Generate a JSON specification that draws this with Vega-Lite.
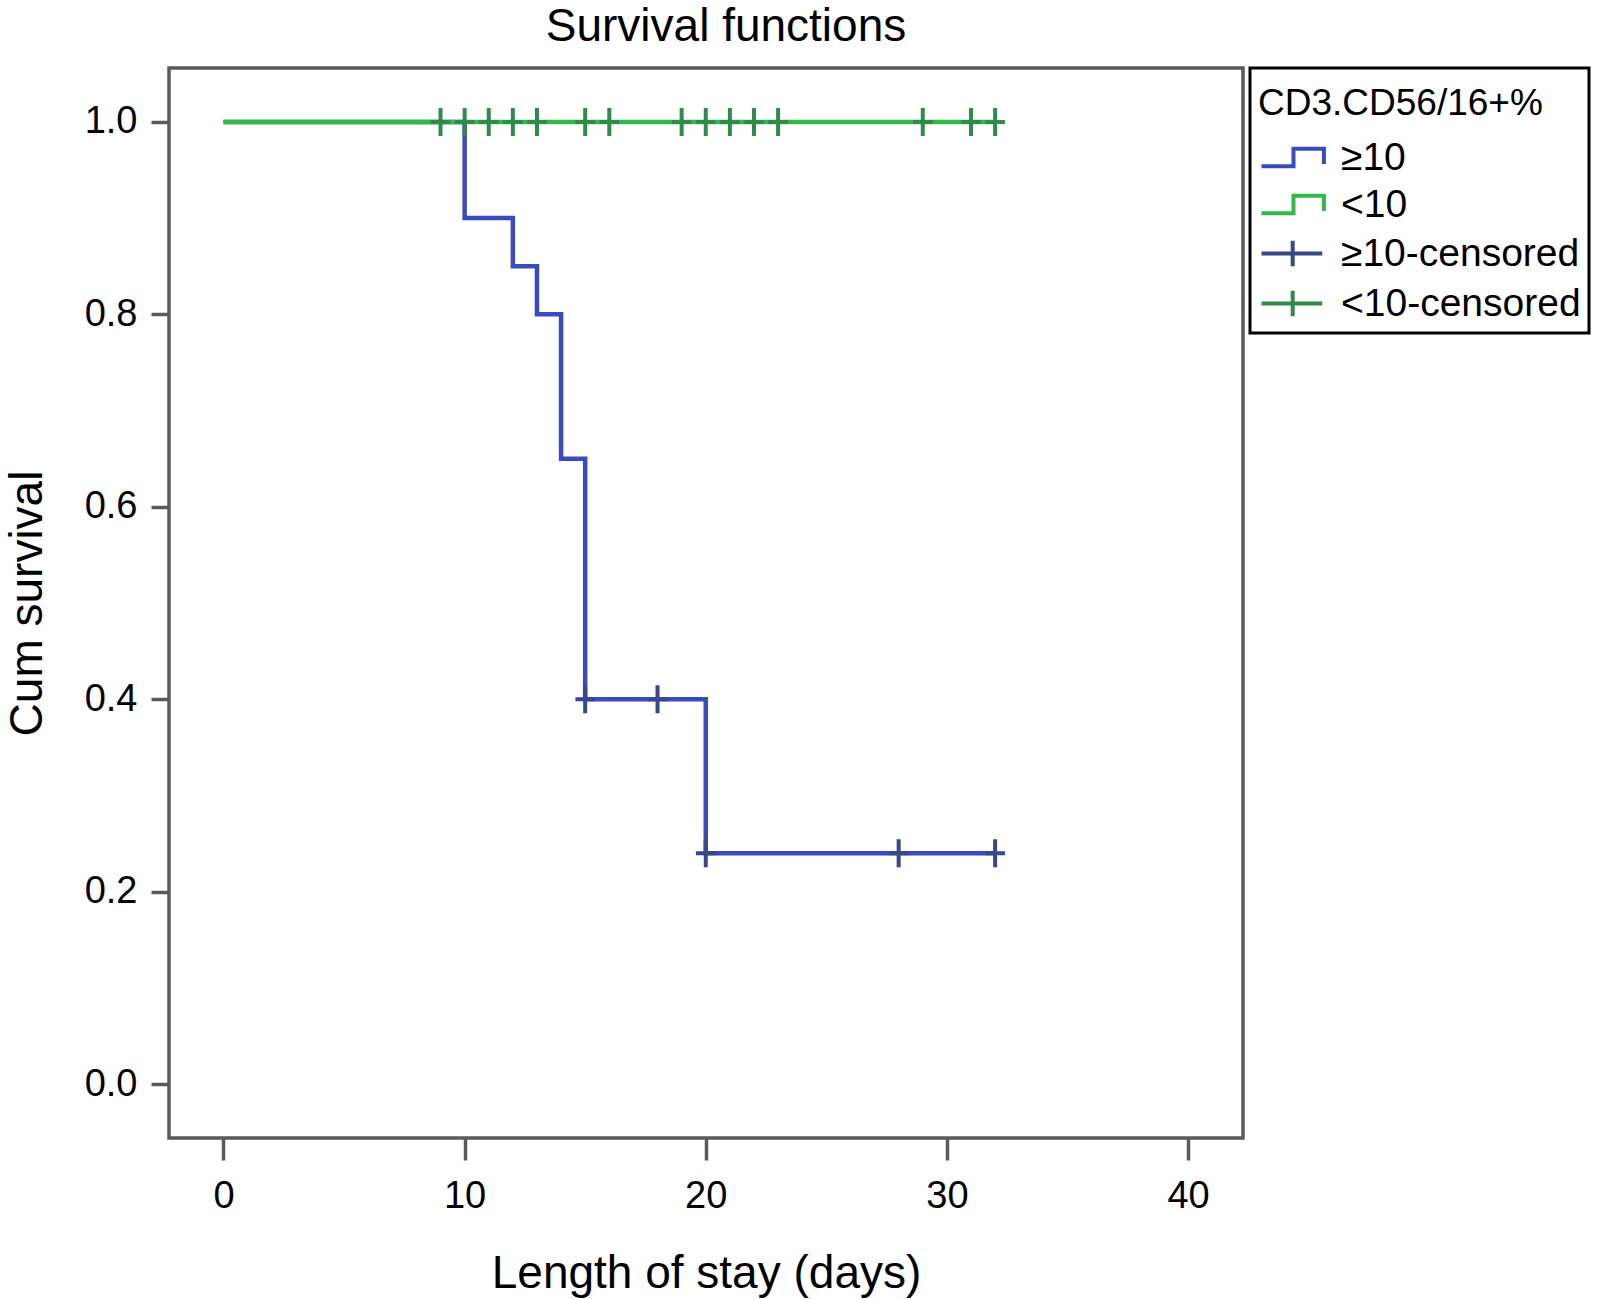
{
  "$schema": "https://vega.github.io/schema/vega-lite/v6.json",
  "width": 1074,
  "height": 1070,
  "autosize": {"type": "none"},
  "padding": {"left": 169, "top": 68, "right": 366, "bottom": 161},
  "background": "white",
  "title": {
    "text": "Survival functions",
    "font": "Liberation Sans",
    "fontSize": 46,
    "fontWeight": "normal",
    "color": "black",
    "anchor": "middle",
    "dx": 20,
    "offset": 16
  },
  "datasets": {
    "curves": [
      {"day": 0, "survival": 1.0, "group": "≥10"},
      {"day": 10, "survival": 0.9, "group": "≥10"},
      {"day": 12, "survival": 0.85, "group": "≥10"},
      {"day": 13, "survival": 0.8, "group": "≥10"},
      {"day": 14, "survival": 0.65, "group": "≥10"},
      {"day": 15, "survival": 0.4, "group": "≥10"},
      {"day": 20, "survival": 0.24, "group": "≥10"},
      {"day": 32, "survival": 0.24, "group": "≥10"},
      {"day": 0, "survival": 1.0, "group": "<10"},
      {"day": 32, "survival": 1.0, "group": "<10"}
    ],
    "censored": [
      {"day": 15, "survival": 0.4, "group": "≥10-censored"},
      {"day": 18, "survival": 0.4, "group": "≥10-censored"},
      {"day": 20, "survival": 0.24, "group": "≥10-censored"},
      {"day": 28, "survival": 0.24, "group": "≥10-censored"},
      {"day": 32, "survival": 0.24, "group": "≥10-censored"},
      {"day": 9, "survival": 1.0, "group": "<10-censored"},
      {"day": 10, "survival": 1.0, "group": "<10-censored"},
      {"day": 11, "survival": 1.0, "group": "<10-censored"},
      {"day": 12, "survival": 1.0, "group": "<10-censored"},
      {"day": 13, "survival": 1.0, "group": "<10-censored"},
      {"day": 15, "survival": 1.0, "group": "<10-censored"},
      {"day": 16, "survival": 1.0, "group": "<10-censored"},
      {"day": 19, "survival": 1.0, "group": "<10-censored"},
      {"day": 20, "survival": 1.0, "group": "<10-censored"},
      {"day": 21, "survival": 1.0, "group": "<10-censored"},
      {"day": 22, "survival": 1.0, "group": "<10-censored"},
      {"day": 23, "survival": 1.0, "group": "<10-censored"},
      {"day": 29, "survival": 1.0, "group": "<10-censored"},
      {"day": 31, "survival": 1.0, "group": "<10-censored"},
      {"day": 32, "survival": 1.0, "group": "<10-censored"}
    ]
  },
  "encoding": {
    "x": {
      "field": "day",
      "type": "quantitative",
      "title": "Length of stay (days)",
      "scale": {"domain": [-2.26, 42.28], "nice": false, "zero": false},
      "axis": {
        "values": [0, 10, 20, 30, 40],
        "grid": false,
        "domain": false,
        "tickSize": 22,
        "tickWidth": 3.5,
        "tickColor": "#5a5a5a",
        "labelFont": "Liberation Sans",
        "labelFontSize": 38,
        "labelColor": "black",
        "labelPadding": 17,
        "titleFont": "Liberation Sans",
        "titleFontSize": 46,
        "titleFontWeight": "normal",
        "titleColor": "black",
        "titlePadding": 36
      }
    },
    "y": {
      "field": "survival",
      "type": "quantitative",
      "title": "Cum survival",
      "scale": {"domain": [-0.056, 1.056], "nice": false, "zero": false},
      "axis": {
        "values": [0, 0.2, 0.4, 0.6, 0.8, 1.0],
        "format": ".1f",
        "grid": false,
        "domain": false,
        "tickSize": 18,
        "tickWidth": 3.5,
        "tickColor": "#5a5a5a",
        "labelFont": "Liberation Sans",
        "labelFontSize": 38,
        "labelColor": "black",
        "labelPadding": 14,
        "titleFont": "Liberation Sans",
        "titleFontSize": 46,
        "titleFontWeight": "normal",
        "titleColor": "black",
        "titlePadding": 33
      }
    },
    "color": {
      "field": "group",
      "type": "nominal",
      "scale": {
        "domain": ["≥10", "<10", "≥10-censored", "<10-censored"],
        "range": ["#3a4bbf", "#33b84a", "#3b4788", "#2f8a4c"]
      },
      "legend": {
        "title": "CD3.CD56/16+%",
        "orient": "none",
        "legendX": 1081,
        "legendY": 0,
        "padding": 8,
        "fillColor": "white",
        "strokeColor": "black",
        "titleFont": "Liberation Sans",
        "titleFontSize": 37,
        "titleFontWeight": "normal",
        "titleColor": "black",
        "titlePadding": 25,
        "titleLimit": 0,
        "labelFont": "Liberation Sans",
        "labelFontSize": 39,
        "labelColor": "black",
        "labelLimit": 0,
        "labelOffset": 44,
        "rowPadding": 7,
        "symbolSize": 1024,
        "symbolStrokeWidth": 4,
        "encode": {
          "legend": {"update": {"strokeWidth": {"value": 3}}},
          "title": {"update": {"dy": {"value": 10}}},
          "symbols": {
            "update": {
              "shape": {"signal": "indexof(datum.label, 'censored') >= 0 ? 'M-1,0H2.8M0.95,-0.8V0.8' : 'M-1,0.55H1V-0.55H2.9V0.4'"},
              "size": {"value": 1024},
              "strokeWidth": {"value": 4},
              "fill": {"value": "transparent"},
              "opacity": {"value": 1}
            }
          }
        }
      }
    }
  },
  "layer": [
    {
      "data": {"name": "curves"},
      "mark": {"type": "line", "interpolate": "step-after", "strokeWidth": 4.5}
    },
    {
      "data": {"name": "censored"},
      "mark": {
        "type": "point",
        "shape": "M-0.7,0H0.7M0,-1V1",
        "size": 784,
        "filled": false,
        "strokeWidth": 4,
        "opacity": 1
      }
    }
  ],
  "config": {
    "view": {"stroke": "#5a5a5a", "strokeWidth": 3.5}
  }
}
